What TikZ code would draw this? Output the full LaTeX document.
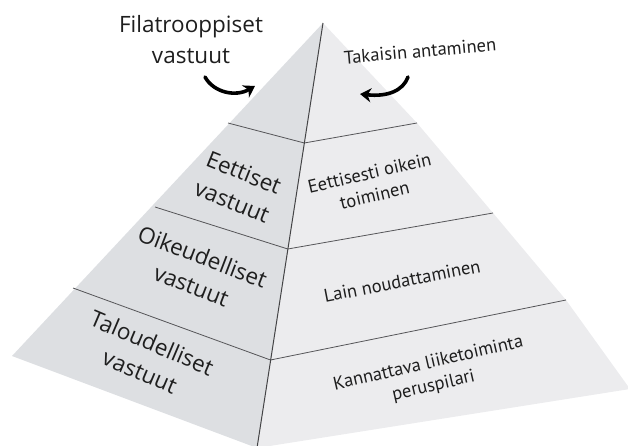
\documentclass[tikz,border=0pt]{standalone}
\usepackage{fontspec}
\setmainfont{Open Sans}
\newfontfamily\rfont{PT Sans}
\usetikzlibrary{arrows.meta}
\definecolor{leftgrey}{RGB}{221,223,226}
\definecolor{rightgrey}{RGB}{236,236,238}
\definecolor{edgegrey}{RGB}{85,85,88}
\definecolor{txt}{RGB}{30,30,30}
\begin{document}
\begin{tikzpicture}[x=1pt,y=-1pt,
  divline/.style={draw=edgegrey, line width=0.8pt},
  midline/.style={draw=edgegrey!80!black, line width=1pt},
  leftlabel/.style={font=\fontsize{22.5}{31}\selectfont, text=txt, align=center, inner sep=0pt},
  rightlabel/.style={font=\rfont\fontsize{18.5}{23}\selectfont, text=txt, align=center, inner sep=0pt},
  bigarrow/.style={line width=3.6pt, line cap=round, -{Stealth[length=11pt,width=14pt,inset=3.5pt]}}]
\useasboundingbox (0,0) rectangle (628,446);
\clip (0,0) rectangle (628,446);
% geometry
\coordinate (apex) at (323,23);
\coordinate (lc) at (12,356);
\coordinate (bc) at (257,448);
\coordinate (rc) at (630,389);
\coordinate (l1) at (228,123);
\coordinate (l2) at (155,207);
\coordinate (l3) at (73,288);
\coordinate (c1) at (304.3,143);
\coordinate (c2) at (287.8,249);
\coordinate (c3) at (270.5,360);
\coordinate (r1) at (417,123);
\coordinate (r2) at (493,213);
\coordinate (r3) at (566,300);
% faces
\fill[leftgrey] (apex) -- (lc) -- (bc) -- cycle;
\fill[rightgrey] (apex) -- (r1) -- (r2) -- (r3) -- (rc) -- (bc) -- cycle;
% division lines
\draw[divline] (l1) -- (c1) -- (r1);
\draw[divline] (l2) -- (c2) -- (r2);
\draw[divline] (l3) -- (c3) -- (r3);
\draw[midline] (apex) -- (bc);
% left labels
\node[leftlabel] (fil) at (191,40) {Filatrooppiset\\vastuut};
\node[leftlabel, rotate=-22] (eet) at (238,187) {Eettiset\\vastuut};
\node[leftlabel, rotate=-21] (oik) at (197,271) {Oikeudelliset\\vastuut};
\node[leftlabel, rotate=-23] (tal) at (146,357) {Taloudelliset\\vastuut};
% right labels
\node[rightlabel, rotate=5] (tak) at (420,51) {Takaisin antaminen};
\node[rightlabel, rotate=13] (eto) at (372,184) {Eettisesti oikein\\toiminen};
\node[rightlabel, rotate=11] (lai) at (402,281) {Lain noudattaminen};
\node[rightlabel, rotate=13] (kan) at (431,375) {Kannattava liiketoiminta\\peruspilari};
% arrows
\coordinate (a1s) at (205,77);
\coordinate (a1e) at (255,86);
\coordinate (a2s) at (408,77);
\coordinate (a2e) at (360,94);
\draw[bigarrow] (a1s) .. controls (214,93) and (236,97) .. (a1e);
\draw[bigarrow] (a2s) .. controls (403,91) and (387,97) .. (a2e);
\end{tikzpicture}
\end{document}
